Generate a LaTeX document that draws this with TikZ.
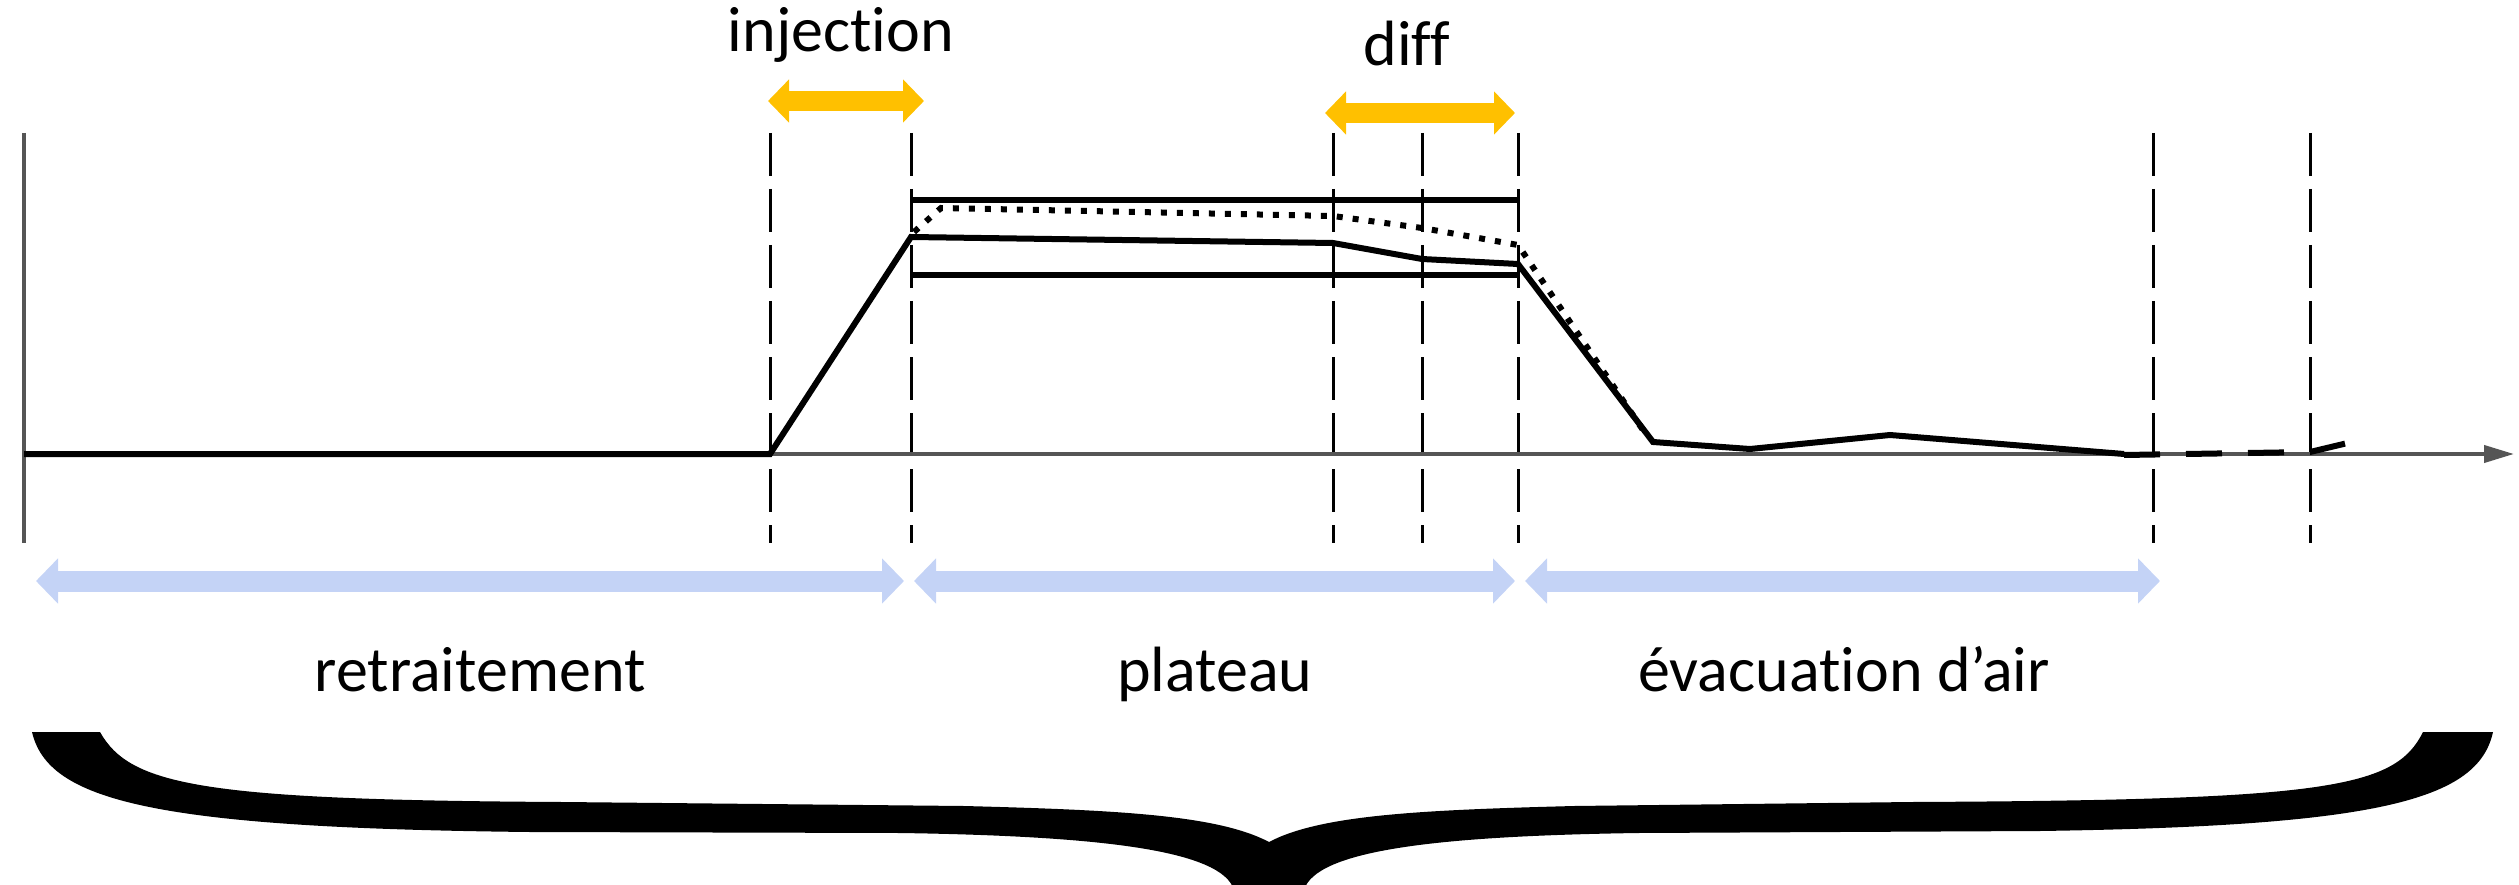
\documentclass[tikz,border=0pt]{standalone}
\usepackage{fontspec}
\setmainfont{Carlito}[Ligatures=NoCommon]
\usetikzlibrary{arrows.meta}
\definecolor{spanblue}{RGB}{196,211,246}
\definecolor{gold}{RGB}{255,192,0}
\definecolor{axisgray}{RGB}{85,85,85}
\begin{document}
\begin{tikzpicture}[x=1pt,y=-1pt,
  lbl/.style={font=\fontsize{64}{72}\selectfont, anchor=base, inner sep=0pt},
  guide/.style={line width=3pt, dash pattern=on 43pt off 13pt},
  axisline/.style={line width=4pt, draw=axisgray},
  signal/.style={line width=6pt, line join=miter},
  bar/.style={line width=5.5pt},
  span/.style={draw=spanblue, line width=21pt,
    {Triangle[length=22pt,width=44pt]}-{Triangle[length=22pt,width=44pt]}},
  phase/.style={draw=gold, line width=20pt,
    {Triangle[length=21pt,width=42pt]}-{Triangle[length=21pt,width=42pt]}}]
\useasboundingbox (0,0) rectangle (2519,885);

% time marks
\foreach \name/\x in {g1/770, g2/911, g3/1333, g4/1422, g5/1518, g6/2153, g7/2310} {
  \coordinate (\name top) at (\x,133);
  \coordinate (\name bot) at (\x,543);
  \draw[guide] (\name top) -- (\name bot);
}

% axes
\coordinate (origin) at (24,454);
\coordinate (yl) at (24,133);
\coordinate (yb) at (24,543);
\coordinate (xend) at (2514,454);
\draw[axisline] (yl) -- (yb);
\draw[axisline, -{Triangle[length=30pt,width=17pt]}] (origin) -- (xend);

% tolerance bars on the plateau
\draw[bar] (911,200) -- (1518,200);
\draw[bar] (911,275) -- (1518,275);

% measured curve
\draw[signal] (origin) -- (770,454) -- (911,237) -- (1333,243) -- (1422,259)
  -- (1518,264) -- (1653,442) -- (1750,449) -- (1890,435) -- (2124,454);
\draw[signal, dash pattern=on 36pt off 26pt] (2124,455) -- (2310,452) -- (2356,441);

% second curve, dotted
\draw[line width=6pt, dash pattern=on 6pt off 10pt]
  (914,232) -- (941,208) -- (1333,216) -- (1422,228) -- (1518,245) -- (1647,436);

% phase spans
\coordinate (i1) at (768,101);
\coordinate (i2) at (924,101);
\coordinate (d1) at (1325,113);
\coordinate (d2) at (1515,113);
\draw[phase] (i1) -- (i2);
\draw[phase] (d1) -- (d2);

\coordinate (r1) at (36,581);
\coordinate (r2) at (904,581);
\coordinate (p1) at (914,581);
\coordinate (p2) at (1515,581);
\coordinate (e1) at (1525,581);
\coordinate (e2) at (2160,581);
\draw[span] (r1) -- (r2);
\draw[span] (p1) -- (p2);
\draw[span] (e1) -- (e2);

% labels
\node[lbl] (tinj) at (841,52) {injection};
\node[lbl] (tdiff) at (1407,66) {diff};
\node[lbl] (tret) at (480,691) {retraitement};
\node[lbl] (tpla) at (1215,691) {plateau};
\node[lbl] (tevac) at (1844,691) {évacuation d’air};

% brace under the whole cycle
\fill (32,732) .. controls (48,800) and (150,828) .. (530,832)
  -- (900,833) .. controls (1100,836) and (1222,850) .. (1234,890)
  -- (1304,890) .. controls (1316,850) and (1438,836) .. (1638,833)
  -- (2040,831) .. controls (2380,826) and (2478,800) .. (2493,732)
  -- (2423,732) .. controls (2395,788) and (2330,800) .. (1912,802)
  -- (1574,806) .. controls (1420,810) and (1320,815) .. (1269,842)
  .. controls (1218,815) and (1118,810) .. (964,806)
  -- (562,802) .. controls (200,800) and (130,785) .. (100,732) -- cycle;
\end{tikzpicture}
\end{document}
